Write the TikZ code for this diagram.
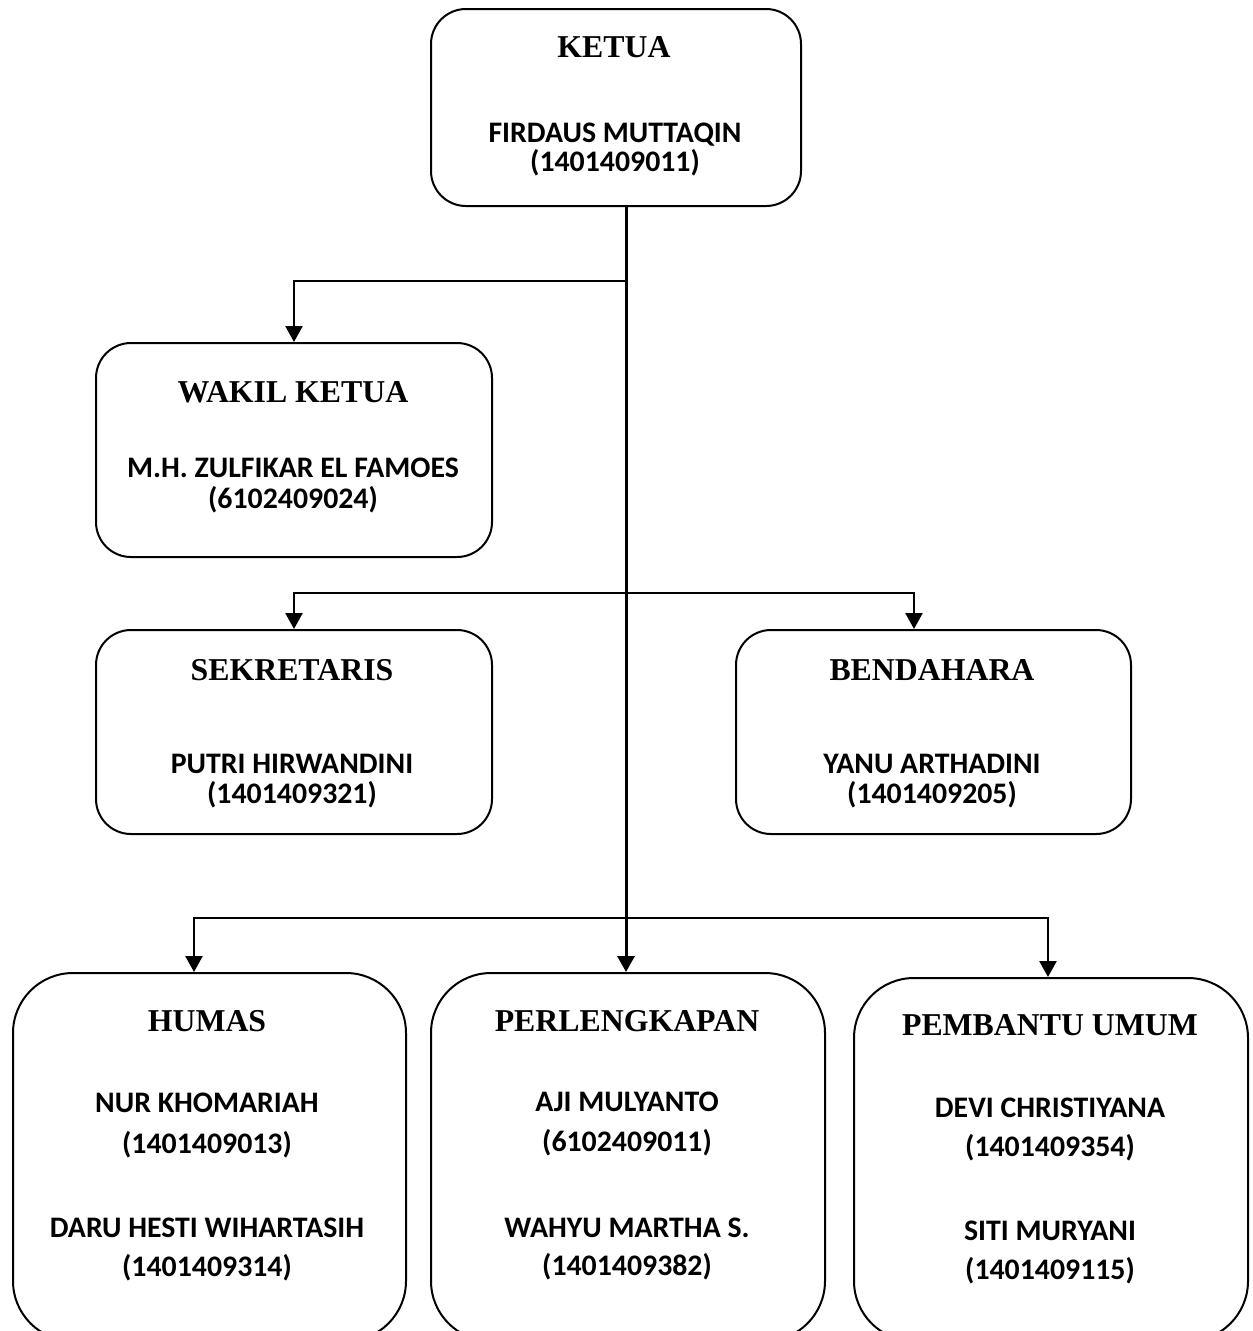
\documentclass[tikz,border=0pt]{standalone}
\usepackage{fontspec}
\newfontfamily\titlefont{Liberation Serif}
\newfontfamily\namefont{Carlito}
\usetikzlibrary{arrows.meta}
\tikzset{
  box/.style={draw=black, line width=2pt, rectangle, rounded corners=35pt, anchor=north west, inner sep=0pt},
  bigbox/.style={box, rounded corners=60pt},
  ttl/.style={anchor=base, inner sep=0pt, font=\titlefont\bfseries\fontsize{31.8}{36}\selectfont},
  nm/.style={anchor=base, inner sep=0pt, font=\namefont\bfseries\fontsize{29.8}{34}\selectfont},
  conn/.style={draw=black, line width=2.5pt, -{Triangle[width=17pt,length=16pt]}},
  trunkline/.style={draw=black, line width=3pt, -{Triangle[width=17pt,length=16pt]}}
}
\begin{document}
\begin{tikzpicture}[x=1pt,y=-1pt]
\useasboundingbox (0,0) rectangle (1253,1331);
\fill[white] (0,0) rectangle (1253,1331);
\clip (0,0) rectangle (1253,1331);

% boxes
\node[box, minimum width=370pt, minimum height=197pt] (ketua) at (430,8) {};
\node[box, minimum width=396pt, minimum height=214pt] (wakil) at (95,342) {};
\node[box, minimum width=396pt, minimum height=204pt] (sekretaris) at (95,629) {};
\node[box, minimum width=395pt, minimum height=204pt] (bendahara) at (735,629) {};
\node[bigbox, minimum width=393pt, minimum height=368pt] (humas) at (12,972) {};
\node[bigbox, minimum width=394pt, minimum height=368pt] (perlengkapan) at (430,972) {};
\node[bigbox, minimum width=394pt, minimum height=363pt] (pembantu) at (853,977) {};

% texts
\node[ttl] (t-ketua) at (614,57) {KETUA};
\node[nm] (n-ketua1) at (615,142) {FIRDAUS MUTTAQIN};
\node[nm] (n-ketua2) at (615,171) {(1401409011)};

\node[ttl] (t-wakil) at (293,402) {WAKIL KETUA};
\node[nm] (n-wakil1) at (293,477) {M.H. ZULFIKAR EL FAMOES};
\node[nm] (n-wakil2) at (293,508) {(6102409024)};

\node[ttl] (t-sek) at (292,680) {SEKRETARIS};
\node[nm] (n-sek1) at (292,773) {PUTRI HIRWANDINI};
\node[nm] (n-sek2) at (292,803) {(1401409321)};

\node[ttl] (t-ben) at (932,680) {BENDAHARA};
\node[nm] (n-ben1) at (932,773) {YANU ARTHADINI};
\node[nm] (n-ben2) at (932,803) {(1401409205)};

\node[ttl] (t-hum) at (207,1031) {HUMAS};
\node[nm] (n-hum1) at (207,1112) {NUR KHOMARIAH};
\node[nm] (n-hum2) at (207,1153) {(1401409013)};
\node[nm] (n-hum3) at (207,1237) {DARU HESTI WIHARTASIH};
\node[nm] (n-hum4) at (207,1276) {(1401409314)};

\node[ttl] (t-per) at (627,1031) {PERLENGKAPAN};
\node[nm] (n-per1) at (627,1111) {AJI MULYANTO};
\node[nm] (n-per2) at (627,1151) {(6102409011)};
\node[nm] (n-per3) at (627,1237) {WAHYU MARTHA S.};
\node[nm] (n-per4) at (627,1275) {(1401409382)};

\node[ttl] (t-pem) at (1050,1035) {PEMBANTU UMUM};
\node[nm] (n-pem1) at (1050,1117) {DEVI CHRISTIYANA};
\node[nm] (n-pem2) at (1050,1156) {(1401409354)};
\node[nm] (n-pem3) at (1050,1240) {SITI MURYANI};
\node[nm] (n-pem4) at (1050,1279) {(1401409115)};

% connectors
\coordinate (kt) at ([xshift=10pt]ketua.south);
\coordinate (j1) at (625,281);
\coordinate (j2) at (625,593);
\coordinate (j3) at (625,918);
\draw[trunkline] (kt) -- (kt |- perlengkapan.north);
\draw[conn] (j1) -| (wakil.north);
\draw[conn] (j2) -| (sekretaris.north);
\draw[conn] (j2) -| ([xshift=-19.5pt]bendahara.north);
\draw[conn] (j3) -| ([xshift=-15.5pt]humas.north);
\draw[conn] (j3) -| ([xshift=-3pt]pembantu.north);
\end{tikzpicture}
\end{document}
